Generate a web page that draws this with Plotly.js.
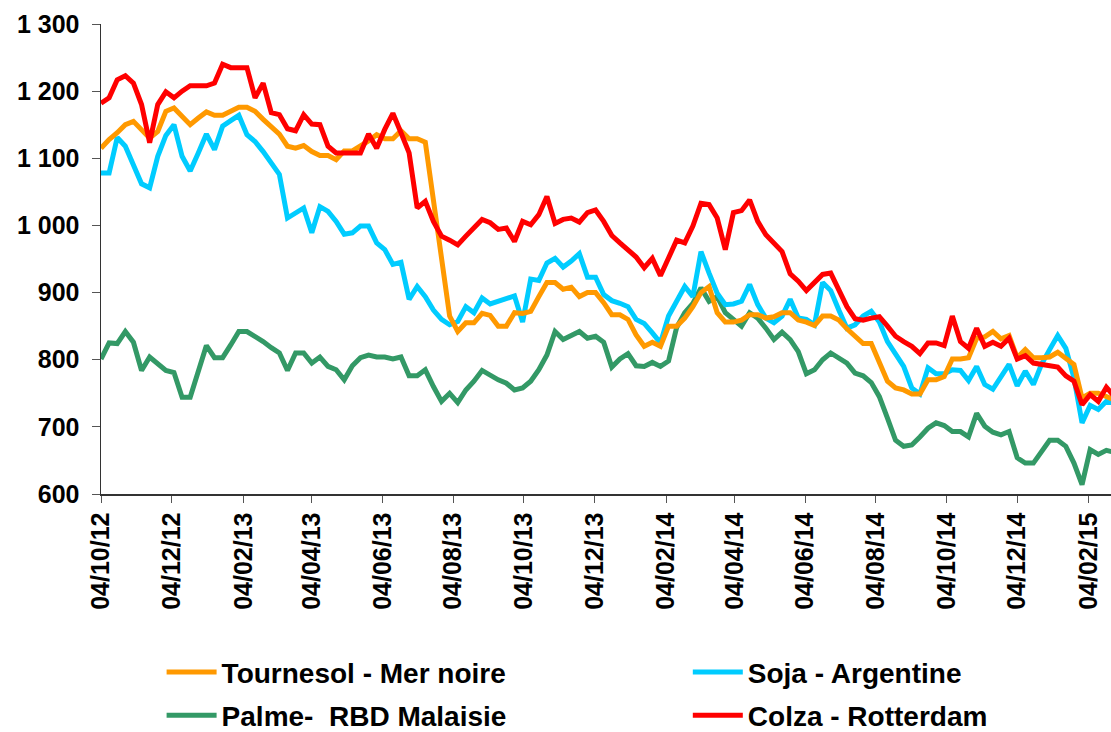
<!DOCTYPE html>
<html>
<head>
<meta charset="utf-8">
<script src="https://cdn.plot.ly/plotly-3.0.1.min.js"></script>
<style>html,body{margin:0;padding:0;background:#fff;}#chart{width:1111px;height:732px;}</style>
</head>
<body>
<div id="chart"></div>
<script>
// Weekly series starting on this date (one value per week)
const startDate = '2012-10-04';

const tournesol = [1115,1128,1138,1150,1155,1143,1130,1140,1170,1175,1162,1150,1160,1169,1164,1164,1170,1176,1176,1170,
1158,1148,1136,1118,1115,1119,1110,1104,1104,1098,1111,1111,1118,1126,1135,1129,1129,1141,1129,1129,
1124,1040,955,865,842,855,855,869,866,850,850,870,869,872,894,915,915,905,908,894,
900,900,885,867,867,860,837,820,826,820,850,850,862,879,900,909,870,856,856,859,
867,867,862,864,870,870,859,856,851,865,865,859,846,834,824,824,795,768,758,755,
749,749,770,770,775,801,801,803,832,834,842,831,836,803,815,803,803,804,811,803,
793,743,750,750,746,740];

const soja = [1078,1078,1131,1118,1090,1062,1056,1103,1134,1150,1103,1081,1108,1136,1113,1148,1156,1164,1135,1125,
1110,1093,1076,1011,1019,1026,989,1028,1021,1006,987,989,999,999,974,964,942,945,890,909,
894,874,860,852,857,879,870,892,883,887,890,895,856,920,918,944,951,938,947,958,
923,923,897,888,884,879,860,854,840,825,865,887,909,894,961,929,899,882,883,887,
912,882,862,855,865,890,862,860,852,915,903,874,847,852,865,872,856,827,810,790,
758,749,788,779,779,785,784,769,790,763,756,776,793,761,783,763,793,815,836,817,
773,706,732,726,738,735];

const palme = [801,825,824,842,826,784,804,795,784,781,744,744,783,821,803,803,822,842,842,835,
827,818,810,784,810,810,795,804,790,785,770,791,803,807,804,804,801,804,776,776,
785,760,738,750,736,755,768,784,776,770,765,755,758,768,785,807,842,830,836,842,
832,835,826,789,801,809,791,790,796,790,798,848,870,884,907,887,894,870,860,850,
870,862,847,830,841,830,812,779,785,800,810,803,795,780,776,766,745,713,680,671,
673,685,698,706,702,693,693,685,720,701,692,688,693,654,646,646,663,680,680,671,
646,614,666,659,665,662];

const colza = [1182,1190,1217,1223,1212,1180,1123,1180,1199,1190,1200,1208,1208,1208,1212,1240,1235,1235,1235,1190,
1212,1168,1165,1144,1141,1165,1151,1150,1118,1108,1108,1108,1108,1136,1115,1143,1167,1138,1108,1026,
1036,1006,984,978,971,984,996,1009,1004,994,996,976,1006,1001,1016,1043,1003,1009,1011,1005,
1019,1023,1006,985,974,964,953,937,951,925,951,978,974,999,1033,1031,1011,964,1019,1022,
1038,1006,986,973,961,928,917,903,914,927,929,904,879,861,859,862,864,850,835,827,
820,809,825,825,821,865,827,817,847,820,826,820,832,801,806,795,793,791,789,776,
768,733,748,738,759,745];

const seriesNames = ['Tournesol - Mer noire', 'Soja - Argentine', 'Palme-  RBD Malaisie', 'Colza - Rotterdam'];
const seriesColors = ['#FF9900', '#00CCFF', '#339966', '#FF0000'];

// weekly dates
function weeklyDates(start, n) {
  const out = [];
  const d0 = new Date(start + 'T00:00:00Z');
  for (let i = 0; i < n; i++) {
    const d = new Date(d0.getTime() + i * 7 * 86400000);
    out.push(d.toISOString().slice(0, 10));
  }
  return out;
}
const dates = weeklyDates(startDate, colza.length);

const FONT = 'Liberation Sans, Arial, sans-serif';
const allSeries = [tournesol, soja, palme, colza];
const legendOf = ['legend', 'legend2', 'legend', 'legend2'];
const legendRanks = [1, 1, 2, 2];

const traces = allSeries.map((vals, k) => ({
  type: 'scatter',
  mode: 'lines',
  x: dates,
  y: vals,
  name: seriesNames[k],
  line: {color: seriesColors[k], width: 5},
  legend: legendOf[k],
  legendgroup: 'g' + k,
  legendrank: legendRanks[k]
}));
// draw order: green, cyan, orange, red on top
const ordered = [traces[2], traces[1], traces[0], traces[3]];

const legendBase = {
  orientation: 'v',
  xanchor: 'left',
  yanchor: 'top',
  y: -0.326,
  font: {family: FONT, size: 28, color: '#000', weight: 'bold'},
  bgcolor: 'rgba(0,0,0,0)',
  borderwidth: 0,
  tracegroupgap: 4,
  itemwidth: 50,
  traceorder: 'grouped'
};

const layout = {
  width: 1111,
  height: 732,
  margin: {l: 101, r: 0, t: 24, b: 238, autoexpand: false},
  paper_bgcolor: '#fff',
  plot_bgcolor: '#fff',
  separators: ', ',
  showlegend: true,
  font: {family: FONT, color: '#000'},
  xaxis: {
    type: 'date',
    range: ['2012-10-04', '2015-02-23'],
    tick0: '2012-10-04',
    dtick: 'M2',
    tickformat: '%d/%m/%y',
    tickangle: -90,
    ticks: 'outside',
    ticklen: 7,
    tickcolor: '#555',
    showline: true,
    linecolor: '#333',
    linewidth: 1.5,
    showgrid: false,
    zeroline: false,
    tickfont: {family: FONT, size: 25, color: '#000', weight: 'bold'}
  },
  yaxis: {
    range: [600, 1300],
    dtick: 100,
    tick0: 600,
    separatethousands: true,
    ticks: 'outside',
    ticklen: 8,
    tickcolor: '#555',
    showline: true,
    linecolor: '#333',
    linewidth: 1.5,
    showgrid: false,
    zeroline: false,
    ticklabelstandoff: 7,
    tickfont: {family: FONT, size: 25, color: '#000', weight: 'bold'}
  },
  legend: Object.assign({}, legendBase, {x: 0.06}),
  legend2: Object.assign({}, legendBase, {x: 0.581})
};

Plotly.newPlot('chart', ordered, layout, {displayModeBar: false, staticPlot: true});
</script>
</body>
</html>
